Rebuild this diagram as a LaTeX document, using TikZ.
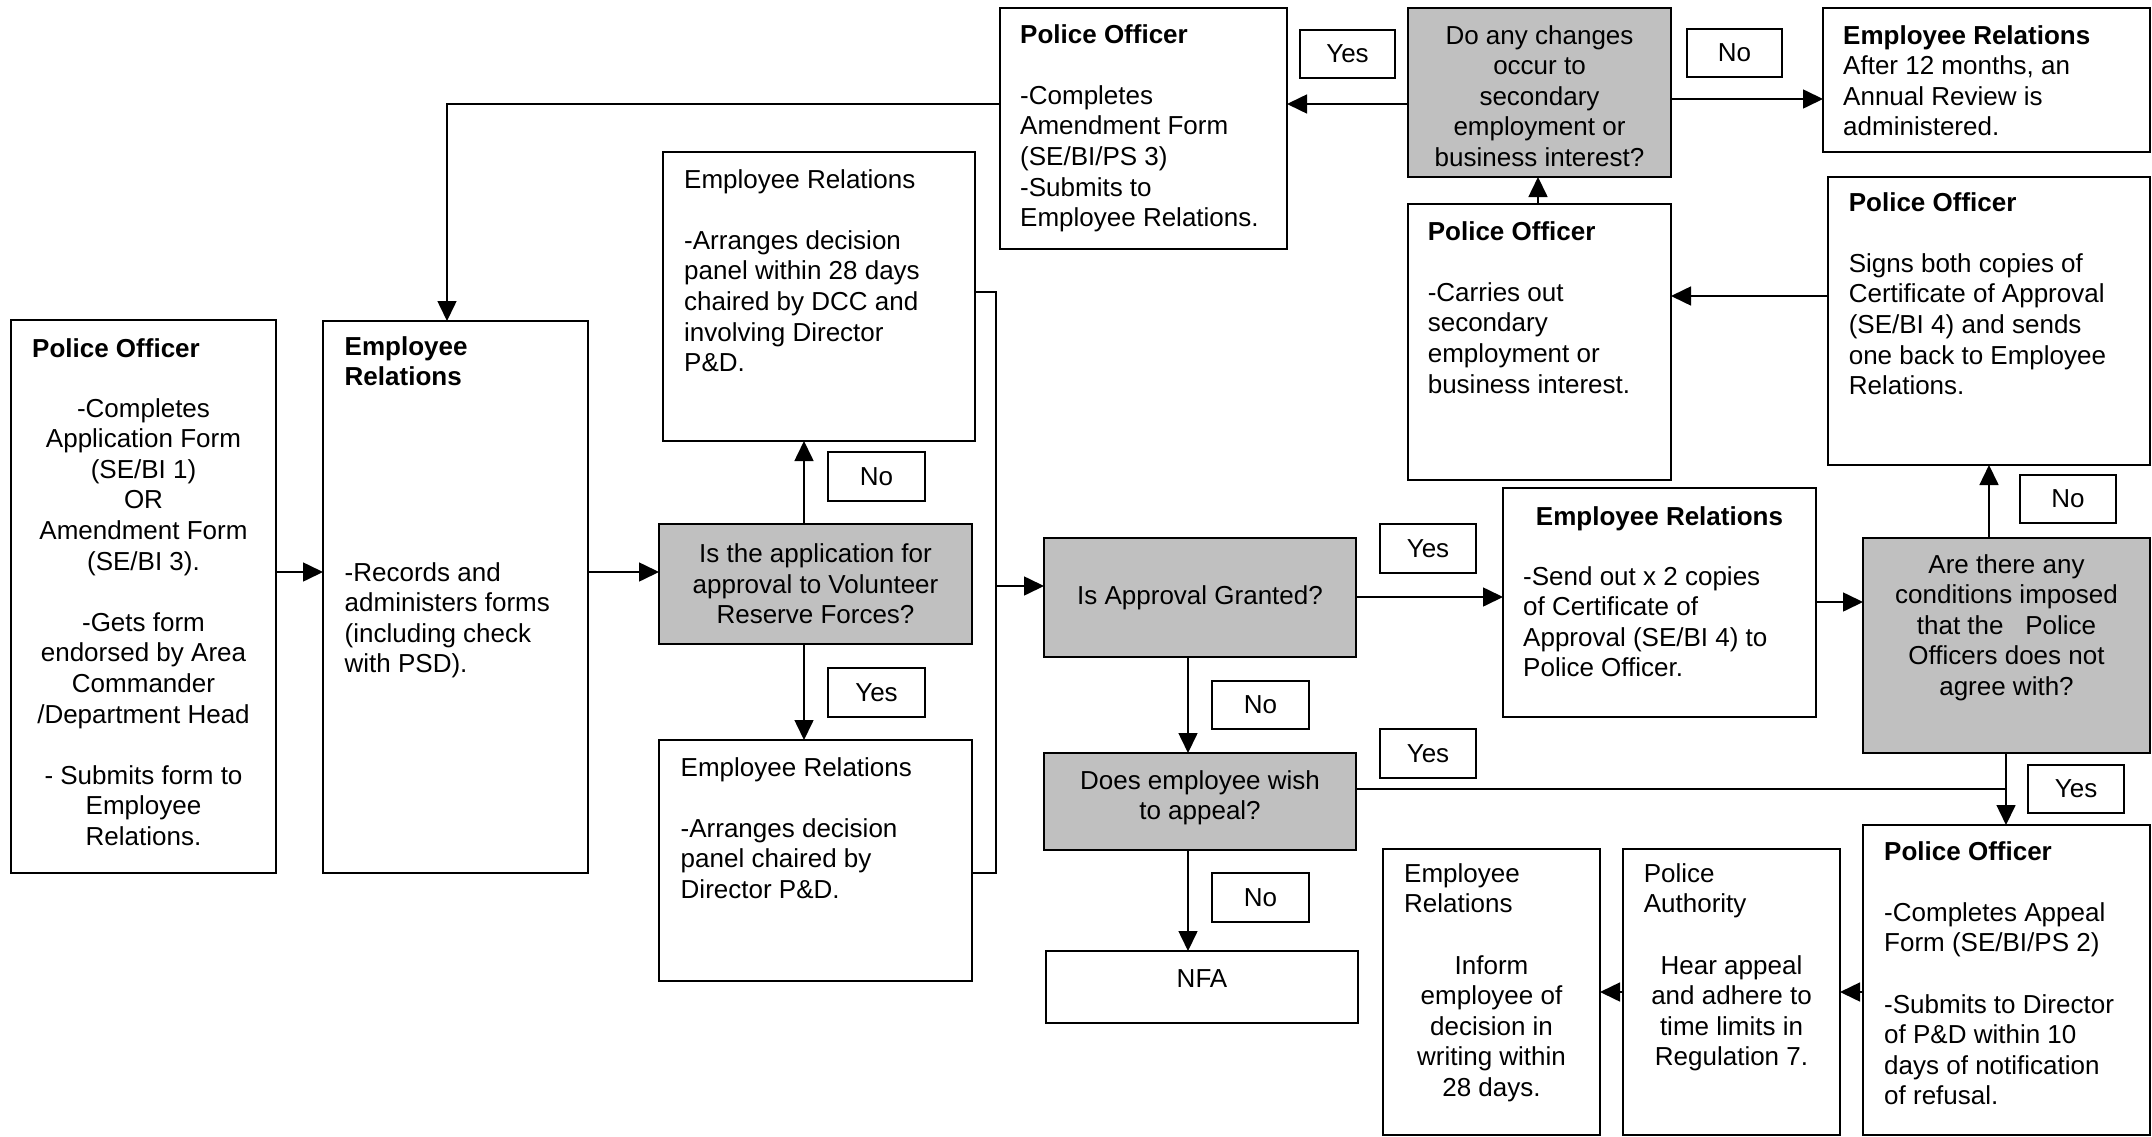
\documentclass[tikz,border=0pt]{standalone}
\usepackage{fontspec}
\setmainfont{Liberation Sans}
\usetikzlibrary{arrows.meta}
\definecolor{boxgray}{HTML}{C0C0C0}
\newcommand\fs{\fontsize{26}{30.6}\selectfont}
\begin{document}
\begin{tikzpicture}[x=1pt,y=-1pt,
  box/.style={draw, line width=1.6pt, anchor=north west, inner sep=0pt, outer sep=0pt},
  gbox/.style={box, fill=boxgray, font=\fs, align=center},
  lab/.style={box, font=\fs, align=center},
  txt/.style={inner sep=0pt, font=\fs, align=left, anchor=north west, execute at begin node=\strut},
  ctxt/.style={inner sep=0pt, font=\fs, align=center, anchor=north, execute at begin node=\strut},
  arr/.style={line width=1.6pt, -{Triangle[length=20pt,width=19pt]}},
  ln/.style={line width=1.6pt}]
\path[use as bounding box, fill=white] (0,0) rectangle (2152,1137);

% ---------- boxes ----------
\node[box, minimum width=265pt, minimum height=553pt] (po1) at (11,320) {};
\node[box, minimum width=265pt, minimum height=552pt] (er1) at (323,321) {};
\node[gbox, minimum width=313pt, minimum height=120pt] (dec1) at (659,524) {Is the application for\\approval to Volunteer\\Reserve Forces?};
\node[box, minimum width=312pt, minimum height=289pt] (ertop) at (663,152) {};
\node[box, minimum width=313pt, minimum height=241pt] (erbot) at (659,740) {};
\node[gbox, minimum width=312pt, minimum height=119pt] (appr) at (1044,538) {Is Approval Granted?};
\node[box, fill=boxgray, minimum width=312pt, minimum height=97pt] (appeal) at (1044,753) {};
\node[box, minimum width=312pt, minimum height=72pt] (nfa) at (1046,951) {};
\node[box, minimum width=313pt, minimum height=229pt] (ersend) at (1503,488) {};
\node[box, fill=boxgray, minimum width=287pt, minimum height=215pt] (cond) at (1863,538) {};
\node[box, minimum width=322pt, minimum height=288pt] (posign) at (1828,177) {};
\node[box, minimum width=263pt, minimum height=276pt] (pocarry) at (1408,204) {};
\node[box, fill=boxgray, minimum width=263pt, minimum height=169pt] (doany) at (1408,8) {};
\node[box, minimum width=287pt, minimum height=241pt] (poamend) at (1000,8) {};
\node[box, minimum width=327pt, minimum height=144pt] (erannual) at (1823,8) {};
\node[box, minimum width=287pt, minimum height=310pt] (poappeal) at (1863,825) {};
\node[box, minimum width=217pt, minimum height=286pt] (pa) at (1623,849) {};
\node[box, minimum width=217pt, minimum height=286pt] (erinf) at (1383,849) {};

% ---------- texts ----------
\node[txt] (po1t) at (32,336) {\textbf{Police Officer}};
\node[ctxt] (po1b) at (143.5,398) {-Completes\\Application Form\\(SE/BI 1)\\OR\\Amendment Form\\(SE/BI 3).\\[30.6pt]-Gets form\\endorsed by Area\\Commander\\/Department Head\\[30.6pt]- Submits form to\\Employee\\Relations.};
\node[txt, font=\fs\bfseries] (er1t) at (344.5,336) {Employee\\Relations};
\node[txt] (er1b) at (344.5,562) {-Records and\\administers forms\\(including check\\with PSD).};
\node[txt] (ertopt) at (684,169) {Employee Relations\\[30.6pt]-Arranges decision\\panel within 28 days\\chaired by DCC and\\involving Director\\P\&D.};
\node[txt] (erbott) at (680.5,757) {Employee Relations\\[30.6pt]-Arranges decision\\panel chaired by\\Director P\&D.};
\node[ctxt] (appealt) at (1200,770) {Does employee wish\\to appeal?};
\node[ctxt] (nfat) at (1202,966) {NFA};
\node[ctxt] (ersendt) at (1659.5,504) {\textbf{Employee Relations}};
\node[txt] (ersendb) at (1523,566) {-Send out x 2 copies\\of Certificate of\\Approval (SE/BI 4) to\\Police Officer.};
\node[ctxt] (condt) at (2006.5,554) {Are there any\\conditions imposed\\that the\ \ \ Police\\Officers does not\\agree with?};
\node[txt] (posignt) at (1848.6,192) {\textbf{Police Officer}\\[30.6pt]Signs both copies of\\Certificate of Approval\\(SE/BI 4) and sends\\one back to Employee\\Relations.};
\node[txt] (pocarryt) at (1427.6,221) {\textbf{Police Officer}\\[30.6pt]-Carries out\\secondary\\employment or\\business interest.};
\node[ctxt] (doanyt) at (1539.5,25) {Do any changes\\occur to\\secondary\\employment or\\business interest?};
\node[txt] (poamendt) at (1020,24) {\textbf{Police Officer}\\[30.6pt]-Completes\\Amendment Form\\(SE/BI/PS 3)\\-Submits to\\Employee Relations.};
\node[txt] (erannualt) at (1843,25) {\textbf{Employee Relations}\\After 12 months, an\\Annual Review is\\administered.};
\node[txt] (poappealt) at (1884,841) {\textbf{Police Officer}\\[30.6pt]-Completes Appeal\\Form (SE/BI/PS 2)\\[30.6pt]-Submits to Director\\of P\&D within 10\\days of notification\\of refusal.};
\node[txt] (pat) at (1643.6,863) {Police\\Authority};
\node[ctxt] (pab) at (1731.5,955) {Hear appeal\\and adhere to\\time limits in\\Regulation 7.};
\node[txt] (erinft) at (1404,863) {Employee\\Relations};
\node[ctxt] (erinfb) at (1491.5,955) {Inform\\employee of\\decision in\\writing within\\28 days.};

% ---------- labels ----------
\node[lab, minimum width=95pt, minimum height=48pt] (yTop) at (1300,30) {Yes};
\node[lab, minimum width=95pt, minimum height=48pt] (nTop) at (1687,29) {No};
\node[lab, minimum width=97pt, minimum height=49pt] (nDec) at (828,452) {No};
\node[lab, minimum width=97pt, minimum height=49pt] (yDec) at (828,668) {Yes};
\node[lab, minimum width=96pt, minimum height=49pt] (yAppr) at (1380,524) {Yes};
\node[lab, minimum width=97pt, minimum height=48pt] (nAppr) at (1212,681) {No};
\node[lab, minimum width=96pt, minimum height=49pt] (yAppeal) at (1380,729) {Yes};
\node[lab, minimum width=97pt, minimum height=49pt] (nAppeal) at (1212,873) {No};
\node[lab, minimum width=96pt, minimum height=48pt] (nCond) at (2020,475) {No};
\node[lab, minimum width=96pt, minimum height=48pt] (yCond) at (2028,765) {Yes};

% ---------- connectors ----------
\coordinate (j1) at (996,292);
\coordinate (j2) at (996,873);
\coordinate (j3) at (996,586);
\coordinate (j4) at (2006,789);
\draw[arr] (po1.east |- 0,572) -- (er1.west |- 0,572);
\draw[arr] (er1.east |- 0,572) -- (dec1.west |- 0,572);
\draw[arr] (dec1.north -| 804,0) -- (ertop.south -| 804,0);
\draw[arr] (dec1.south -| 804,0) -- (erbot.north -| 804,0);
\draw[ln] (ertop.east |- j1) -- (j1) -- (j2) -- (erbot.east |- j2);
\draw[arr] (j3) -- (appr.west |- j3);
\draw[arr] (appr.east |- 0,597) -- (ersend.west |- 0,597);
\draw[arr] (ersend.east |- 0,602) -- (cond.west |- 0,602);
\draw[arr] (cond.north -| 1989,0) -- (posign.south -| 1989,0);
\draw[arr] (posign.west |- 0,296) -- (pocarry.east |- 0,296);
\draw[arr] (pocarry.north -| 1538,0) -- (doany.south -| 1538,0);
\draw[arr] (doany.west |- 0,104) -- (poamend.east |- 0,104);
\draw[arr] (doany.east |- 0,99) -- (erannual.west |- 0,99);
\draw[arr] (poamend.west |- 0,104) -| (er1.north -| 447,0);
\draw[arr] (appr.south -| 1188,0) -- (appeal.north -| 1188,0);
\draw[arr] (appeal.south -| 1188,0) -- (nfa.north -| 1188,0);
\draw[ln] (appeal.east |- j4) -- (j4);
\draw[arr] (cond.south -| j4) -- (poappeal.north -| j4);
\draw[arr] (poappeal.west |- 0,992) -- (pa.east |- 0,992);
\draw[arr] (pa.west |- 0,992) -- (erinf.east |- 0,992);
\end{tikzpicture}
\end{document}
